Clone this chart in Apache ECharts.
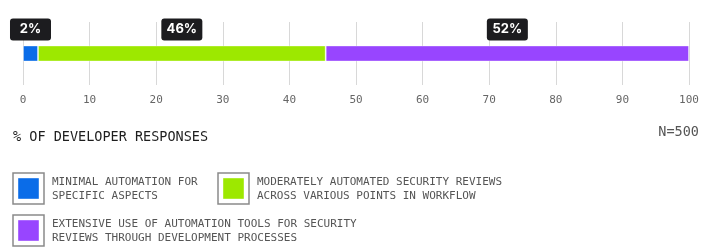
<!DOCTYPE html>
<html>
<head>
<meta charset="utf-8">
<script src="https://cdn.jsdelivr.net/npm/echarts@6/dist/echarts.min.js"></script>
<style>
  html, body { margin: 0; padding: 0; background: #fff; }
  #myChart { width: 714px; height: 247px; }
</style>
</head>
<body>
<div id="myChart"></div>
<script>
// data
const categories = ["responses"];
const seriesNames = [
  "MINIMAL AUTOMATION FOR\nSPECIFIC ASPECTS",
  "MODERATELY AUTOMATED SECURITY REVIEWS\nACROSS VARIOUS POINTS IN WORKFLOW",
  "EXTENSIVE USE OF AUTOMATION TOOLS FOR SECURITY\nREVIEWS THROUGH DEVELOPMENT PROCESSES",
];
// bar lengths as drawn in the picture
const minimalValues = [2.25];
const moderateValues = [43.2];
const extensiveValues = [54.55];
const barLabels = ["2%", "46%", "52%"];
const xTicks = [0, 10, 20, 30, 40, 50, 60, 70, 80, 90, 100];
const sampleSize = "N=500";

const colors = ["#0a6ce8", "#9de800", "#9845ff"];
const mono = "'DejaVu Sans Mono', 'Liberation Mono', monospace";

let myChart = echarts.init(document.getElementById("myChart"));

const seriesData = [minimalValues, moderateValues, extensiveValues];
const series = seriesData.map((vals, i) => ({
  name: seriesNames[i],
  type: "bar",
  stack: "total",
  barWidth: 16,
  data: vals,
  itemStyle: {
    color: colors[i],
    borderColor: "rgba(255,255,255,0.35)",
    borderWidth: 1,
  },
  label: {
    show: true,
    position: "top",
    distance: 16,
    formatter: () => barLabels[i],
    backgroundColor: "#1c1c1f",
    borderRadius: 3,
    color: "#fff",
    fontFamily: "Inter, 'Noto Sans', sans-serif",
    fontWeight: "bold",
    fontSize: 13,
    width: 41,
    height: 22,
    lineHeight: 22,
    align: "center",
    verticalAlign: "middle",
  },
}));

// legend boxes placed by hand, built from the names and colours above
const legendSpots = [[13, 173], [218, 173], [13, 215]];
const legendItems = seriesNames.map((name, i) => ({
  type: "group",
  x: legendSpots[i][0],
  y: legendSpots[i][1],
  children: [
    {
      type: "rect",
      shape: { x: 0, y: 0, width: 31, height: 31 },
      style: { fill: "#fff", stroke: "#8a8a8a", lineWidth: 1.5 },
    },
    {
      type: "rect",
      shape: { x: 5, y: 5, width: 21, height: 21 },
      style: { fill: colors[i], stroke: "rgba(255,255,255,0.4)", lineWidth: 1 },
    },
    {
      type: "text",
      x: 39,
      y: 16,
      style: {
        text: name,
        fill: "#555",
        font: "11px " + mono,
        lineHeight: 13.5,
        verticalAlign: "middle",
      },
    },
  ],
}));

myChart.setOption({
  animation: false,
  title: [
    {
      text: "% OF DEVELOPER RESPONSES",
      left: 13,
      top: 130,
      padding: 0,
      textStyle: { fontFamily: mono, fontSize: 13.5, fontWeight: "normal", color: "#1e1e1e" },
    },
    {
      text: sampleSize,
      right: 15,
      top: 125,
      padding: 0,
      textStyle: { fontFamily: mono, fontSize: 13.5, fontWeight: "normal", color: "#555" },
    },
  ],
  grid: { left: 23, right: 25, top: 22, bottom: 162 },
  xAxis: {
    type: "value",
    min: xTicks[0],
    max: xTicks[xTicks.length - 1],
    interval: xTicks[1] - xTicks[0],
    axisLine: { show: false },
    axisTick: { show: false },
    splitLine: { show: true, lineStyle: { color: "#d8d8d8", width: 1 } },
    axisLabel: { color: "#666", fontFamily: mono, fontSize: 11, margin: 10 },
  },
  yAxis: {
    type: "category",
    data: categories,
    show: false,
  },
  graphic: legendItems,
  series: series,
});
</script>
</body>
</html>
